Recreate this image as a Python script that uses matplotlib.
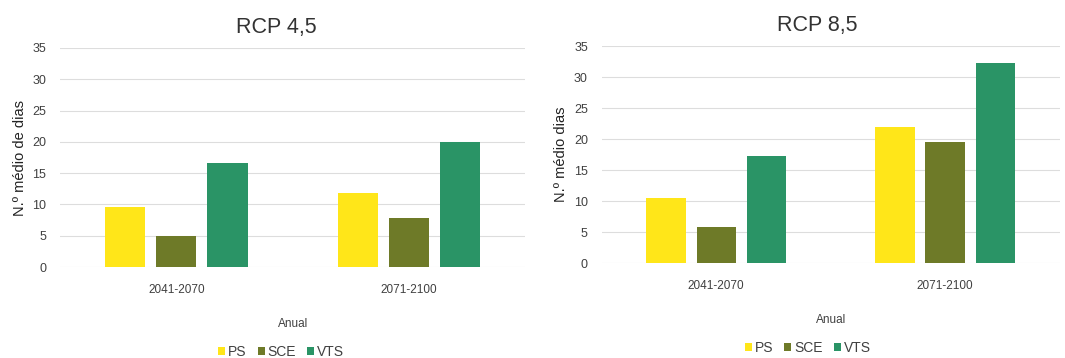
import matplotlib
matplotlib.use("Agg")
import matplotlib.pyplot as plt
import numpy as np

categories = ["2041-2070", "2071-2100"]
series = ["PS", "SCE", "VTS"]
rcp45_ps = [9.6, 11.9]
rcp45_sce = [5.0, 7.8]
rcp45_vts = [16.6, 20.0]
rcp85_ps = [10.5, 22.0]
rcp85_sce = [5.8, 19.5]
rcp85_vts = [17.3, 32.3]
yticks = [0, 5, 10, 15, 20, 25, 30, 35]

colors = ["#FFE619", "#6E7A28", "#2A9466"]
txt = "#404040"

plt.rcParams['font.family'] = ['Liberation Sans', 'DejaVu Sans']

fig = plt.figure(figsize=(10.65, 3.58), dpi=100)

def draw(ax, data, title, ylabel, title_x, leg_x, leg_y):
    x = np.arange(len(categories))
    w = 0.172
    step = 0.22
    for i, (vals, c, name) in enumerate(zip(data, colors, series)):
        ax.bar(x + (i - 1) * step, vals, width=w, color=c, label=name, zorder=3)
    ax.set_xlim(-0.5, 1.5)
    ax.set_ylim(0, 35)
    ax.set_yticks(yticks)
    ax.set_xticks(x)
    ax.set_xticklabels(categories, fontsize=8.5, color=txt)
    ax.tick_params(axis='y', labelsize=9, colors=txt, length=0, pad=10)
    ax.tick_params(axis='x', length=0, pad=12)
    ax.grid(axis='y', color="#DDDDDD", linewidth=0.8, zorder=0)
    for s in ax.spines.values():
        s.set_visible(False)
    ax.set_title(title, fontsize=15.5, color="#333333", pad=11, x=title_x)
    ax.set_ylabel(ylabel, fontsize=10.5, color="#222222", labelpad=4)
    ax.set_xlabel("Anual", fontsize=8.5, color=txt, labelpad=16)
    ax.legend(loc='upper center', bbox_to_anchor=(leg_x, leg_y), ncol=3, frameon=False,
              fontsize=10, handlelength=0.5, handleheight=0.5, handletextpad=0.2,
              columnspacing=0.8, labelcolor=txt)

ax1 = fig.add_axes([0.0563, 0.254, 0.437, 0.612])
draw(ax1, [rcp45_ps, rcp45_sce, rcp45_vts], "RCP 4,5", "N.º médio de dias", 0.465, 0.475, -0.3)
ax2 = fig.add_axes([0.565, 0.265, 0.430, 0.606])
draw(ax2, [rcp85_ps, rcp85_sce, rcp85_vts], "RCP 8,5", "N.º médio dias", 0.47, 0.45, -0.3)

fig.savefig("out.png", dpi=100, facecolor="white")
